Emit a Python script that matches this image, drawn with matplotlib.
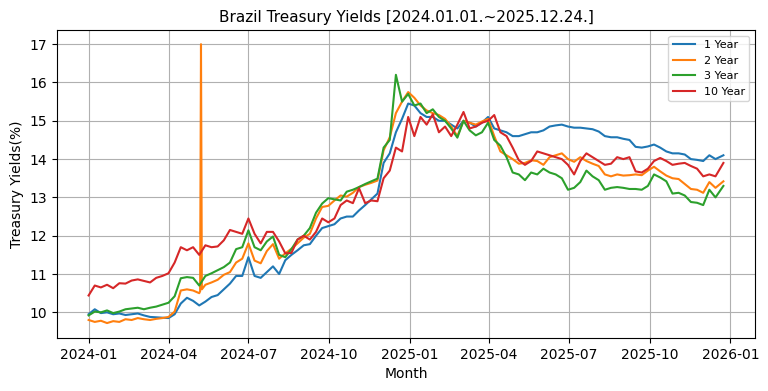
import matplotlib
matplotlib.use("Agg")
import matplotlib.pyplot as plt
import matplotlib.dates as mdates
import pandas as pd
import numpy as np

# Weekly observation dates (2024-01-01 ... ) plus the final date
weekly_dates = list(pd.date_range("2024-01-01", periods=103, freq="7D")) + [pd.Timestamp("2025-12-24")]

y1 = [9.95, 10.08, 9.98, 10.0, 9.95, 9.97, 9.93, 9.95, 9.97, 9.92,
      9.88, 9.87, 9.86, 9.85, 9.95, 10.23, 10.38, 10.3, 10.18, 10.28,
      10.4, 10.45, 10.6, 10.75, 10.95, 10.95, 11.44, 10.95, 10.9, 11.05,
      11.2, 11.0, 11.36, 11.5, 11.62, 11.75, 11.78, 12.0, 12.2, 12.25,
      12.3, 12.45, 12.5, 12.5, 12.66, 12.8, 12.95, 13.1, 13.9, 14.15,
      14.7, 15.05, 15.45, 15.4, 15.2, 15.1, 15.1, 15.0, 15.0, 14.9,
      14.8, 15.0, 14.95, 14.85, 14.95, 15.1, 14.8, 14.75, 14.7, 14.6,
      14.6, 14.65, 14.7, 14.7, 14.75, 14.85, 14.88, 14.9, 14.85, 14.82,
      14.82, 14.8, 14.78, 14.72, 14.6, 14.57, 14.57, 14.53, 14.5, 14.32,
      14.3, 14.33, 14.38, 14.3, 14.2, 14.15, 14.15, 14.12, 14.0, 13.98,
      13.95, 14.1, 14.0, 14.1]

y2 = [9.8, 9.75, 9.78, 9.72, 9.77, 9.75, 9.82, 9.8, 9.85, 9.82,
      9.8, 9.83, 9.85, 9.88, 10.02, 10.57, 10.6, 10.57, 10.5, 10.72,
      10.78, 10.85, 10.98, 11.05, 11.3, 11.4, 11.8, 11.35, 11.28, 11.6,
      11.78, 11.4, 11.54, 11.66, 11.8, 11.95, 12.05, 12.45, 12.75, 12.78,
      12.92, 13.05, 13.02, 13.12, 13.27, 13.33, 13.38, 13.44, 14.23, 14.57,
      15.2, 15.5, 15.75, 15.6, 15.4, 15.27, 15.2, 15.15, 15.05, 14.85,
      14.6, 15.0, 14.95, 14.9, 14.98, 15.05, 14.6, 14.2, 14.1, 14.0,
      13.88, 13.9, 13.97, 13.95, 13.85, 14.05, 14.1, 14.15, 14.0, 13.93,
      14.05, 13.95, 13.88, 13.82, 13.6, 13.55, 13.6, 13.57, 13.58, 13.6,
      13.58, 13.7, 13.8, 13.68, 13.57, 13.5, 13.48, 13.35, 13.22, 13.2,
      13.12, 13.4, 13.25, 13.42]

# 2 Year outlier around early May 2024
spike_dates = [pd.Timestamp("2024-05-07"), pd.Timestamp("2024-05-08"), pd.Timestamp("2024-05-09")]
spike_vals = [10.55, 17.0, 10.6]

y3 = [9.92, 10.02, 10.0, 10.05, 9.98, 10.02, 10.08, 10.1, 10.12, 10.08,
      10.12, 10.15, 10.2, 10.25, 10.42, 10.89, 10.92, 10.9, 10.7, 10.95,
      11.02, 11.1, 11.18, 11.3, 11.65, 11.7, 12.14, 11.7, 11.62, 11.85,
      11.98, 11.5, 11.44, 11.65, 11.9, 12.0, 12.2, 12.6, 12.84, 12.98,
      12.95, 12.92, 13.15, 13.2, 13.27, 13.35, 13.42, 13.49, 14.3, 14.5,
      16.2, 15.5, 15.7, 15.4, 15.45, 15.2, 15.3, 15.1, 15.0, 14.8,
      14.56, 15.0, 14.75, 14.62, 14.7, 14.95, 14.5, 14.35, 14.05, 13.65,
      13.6, 13.45, 13.65, 13.6, 13.75, 13.65, 13.6, 13.5, 13.2, 13.25,
      13.4, 13.7, 13.55, 13.45, 13.2, 13.25, 13.27, 13.25, 13.22, 13.22,
      13.2, 13.3, 13.6, 13.52, 13.42, 13.1, 13.12, 13.05, 12.88, 12.86,
      12.8, 13.2, 13.0, 13.3]

y10 = [10.44, 10.7, 10.65, 10.72, 10.63, 10.76, 10.75, 10.83, 10.86, 10.82,
       10.78, 10.9, 10.95, 11.02, 11.3, 11.7, 11.62, 11.7, 11.5, 11.75,
       11.7, 11.72, 11.88, 12.15, 12.1, 12.05, 12.45, 12.05, 11.8, 12.1,
       12.1, 11.85, 11.54, 11.55, 11.9, 12.0, 11.9, 12.1, 12.45, 12.35,
       12.45, 12.8, 12.92, 12.85, 13.24, 12.85, 12.92, 12.9, 13.5, 13.7,
       14.3, 14.2, 15.1, 14.6, 15.1, 14.9, 15.17, 14.7, 14.85, 14.6,
       14.9, 15.23, 14.8, 14.85, 14.95, 15.0, 15.15, 14.7, 14.6, 14.3,
       13.97, 13.85, 13.95, 14.2, 14.15, 14.1, 14.05, 14.0, 13.85, 13.6,
       13.95, 14.15, 14.05, 13.95, 13.85, 13.88, 14.05, 14.0, 14.05, 13.68,
       13.65, 13.75, 13.95, 14.03, 13.95, 13.85, 13.88, 13.9, 13.82, 13.75,
       13.55, 13.6, 13.55, 13.9]

labels = ["1 Year", "2 Year", "3 Year", "10 Year"]

s2 = pd.Series(y2 + spike_vals, index=weekly_dates + spike_dates).sort_index()

fig = plt.figure(figsize=(7.68, 3.91), dpi=100)
ax = fig.add_axes([57/768, (391-338)/391, (755-57)/768, (338-30)/391])

ax.plot(weekly_dates, y1, color="#1f77b4", label=labels[0], lw=1.5)
ax.plot(s2.index, s2.values, color="#ff7f0e", label=labels[1], lw=1.5)
ax.plot(weekly_dates, y3, color="#2ca02c", label=labels[2], lw=1.5)
ax.plot(weekly_dates, y10, color="#d62728", label=labels[3], lw=1.5)

ax.xaxis.set_major_locator(mdates.MonthLocator(bymonth=[1, 4, 7, 10]))
ax.xaxis.set_major_formatter(mdates.DateFormatter("%Y-%m"))
ax.set_ylim(9.33, 17.37)
ax.set_xlim(pd.Timestamp("2023-11-26"), pd.Timestamp("2026-01-29"))
ax.set_yticks([10, 11, 12, 13, 14, 15, 16, 17])
ax.grid(True, color="#b0b0b0", lw=0.8)
ax.set_title("Brazil Treasury Yields [2024.01.01.~2025.12.24.]", fontsize=11)
ax.set_xlabel("Month")
ax.set_ylabel("Treasury Yields(%)")
ax.legend(loc="upper right", fontsize=8)

fig.savefig("out.png", dpi=100)
